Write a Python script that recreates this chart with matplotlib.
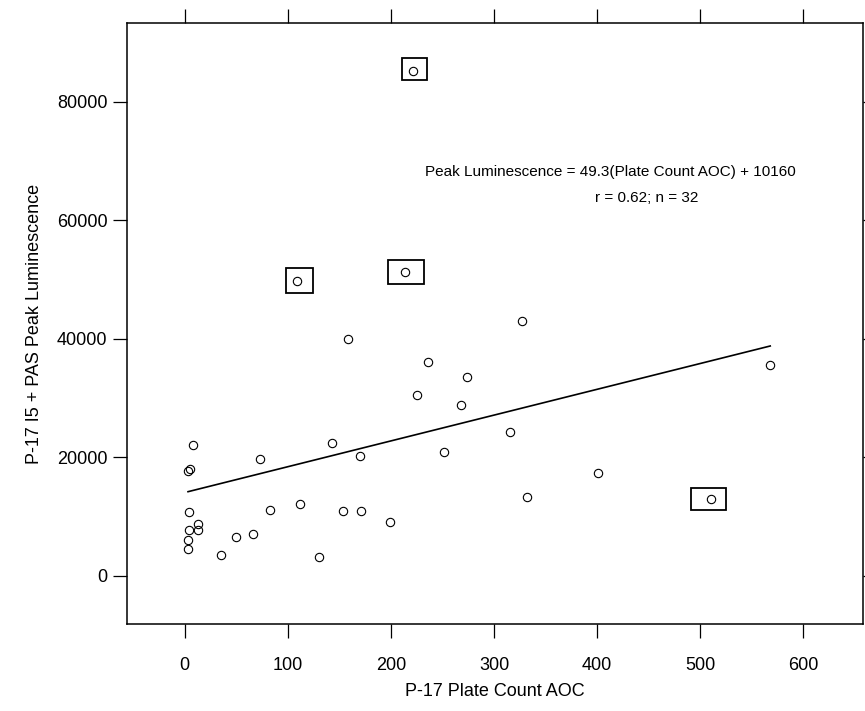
import matplotlib
matplotlib.use('Agg')
import matplotlib.pyplot as plt
from matplotlib.patches import Rectangle

plt.rcParams['font.family'] = ['Liberation Sans', 'DejaVu Sans']

# plate count AOC vs peak luminescence (boxed points are the outliers)
plate_count = [8.4, 5, 3, 73, 143, 170, 252, 4, 83, 112, 154, 171, 199, 13, 13, 4,
               3.3, 3.3, 50, 66, 35, 130, 158, 236, 274, 225, 268, 316, 327, 401,
               332, 568]
luminescence = [22110, 18020, 17730, 19700, 22450, 20210, 20880, 10720, 11060, 12120,
                11000, 11000, 9090, 8700, 7630, 7630, 6010, 4550, 6510, 7070, 3420,
                3080, 39960, 35990, 33460, 30430, 28800, 24300, 42940, 17350, 13250,
                35570]

outlier_x = [221, 109, 214, 511]
outlier_y = [85190, 49700, 51250, 12900]
# box extents around the outliers: (x0, x1, y0, y1)
outlier_boxes = [(210.7, 235, 83660, 87400),
                 (97.8, 124.6, 47670, 51990),
                 (197, 231.7, 49190, 53290),
                 (491, 525, 11090, 14750)]

fit_x = [3.2, 568]
fit_y = [14180, 38770]

fig = plt.figure(figsize=(8.65, 7.11), dpi=100)
ax = fig.add_axes([127/865, 1 - 624/711, (863-127)/865, (624-23)/711])

ax.plot(plate_count, luminescence, 'o', mfc='none', mec='black', ms=6, mew=0.8)
ax.plot(outlier_x, outlier_y, 'o', mfc='none', mec='black', ms=6, mew=0.8)
for x0, x1, y0, y1 in outlier_boxes:
    ax.add_patch(Rectangle((x0, y0), x1 - x0, y1 - y0, fill=False, ec='black', lw=1.3))
ax.plot(fit_x, fit_y, color='black', lw=1.2)

ax.text(413, 68150, 'Peak Luminescence = 49.3(Plate Count AOC) + 10160',
        ha='center', va='center', fontsize=11)
ax.text(448, 63760, 'r = 0.62; n = 32', ha='center', va='center', fontsize=11)

ax.set_xlim(-56, 658)
ax.set_ylim(-8150, 93280)
ax.set_xticks([0, 100, 200, 300, 400, 500, 600])
ax.set_yticks([0, 20000, 40000, 60000, 80000])
ax.tick_params(direction='out', length=10, width=0.9, labelsize=13,
               top=True, right=True)
ax.tick_params(axis='x', pad=14)
ax.tick_params(axis='y', pad=4)
for s in ax.spines.values():
    s.set_linewidth(1.1)

ax.set_xlabel('P-17 Plate Count AOC', fontsize=13, labelpad=6)
ax.set_ylabel('P-17 I5 + PAS Peak Luminescence', fontsize=13, labelpad=10)

fig.savefig('out.png', dpi=100)
